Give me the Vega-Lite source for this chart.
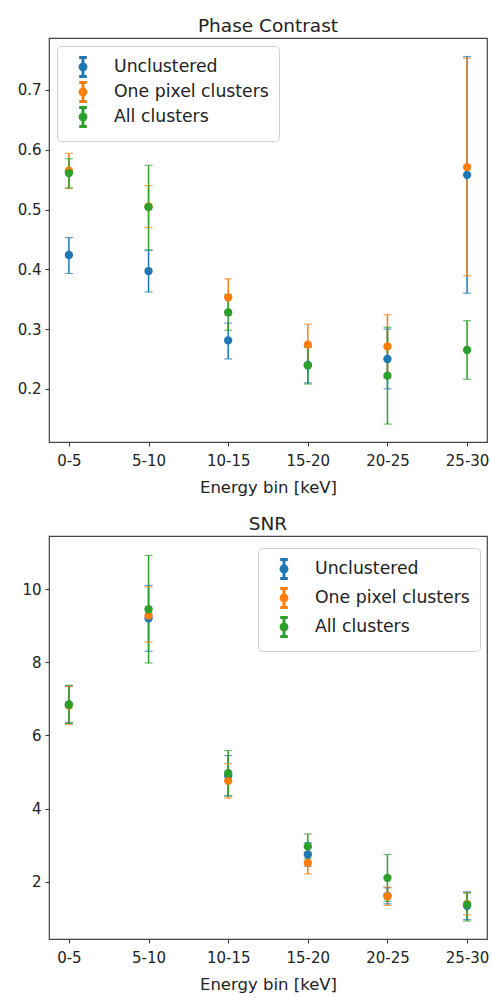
{
  "$schema": "https://vega.github.io/schema/vega-lite/v6.json",
  "padding": {"left": 16, "top": 15, "right": 5, "bottom": 0},
  "background": "white",
  "datasets": {
    "pc": [
      {"bin": "0-5", "series": "Unclustered", "v": 0.424, "lo": 0.393, "hi": 0.453},
      {"bin": "0-5", "series": "One pixel clusters", "v": 0.565, "lo": 0.535, "hi": 0.594},
      {"bin": "0-5", "series": "All clusters", "v": 0.561, "lo": 0.536, "hi": 0.585},
      {"bin": "5-10", "series": "Unclustered", "v": 0.397, "lo": 0.362, "hi": 0.432},
      {"bin": "5-10", "series": "One pixel clusters", "v": 0.505, "lo": 0.47, "hi": 0.54},
      {"bin": "5-10", "series": "All clusters", "v": 0.504, "lo": 0.432, "hi": 0.574},
      {"bin": "10-15", "series": "Unclustered", "v": 0.281, "lo": 0.25, "hi": 0.31},
      {"bin": "10-15", "series": "One pixel clusters", "v": 0.353, "lo": 0.323, "hi": 0.384},
      {"bin": "10-15", "series": "All clusters", "v": 0.328, "lo": 0.298, "hi": 0.358},
      {"bin": "15-20", "series": "Unclustered", "v": 0.24, "lo": 0.21, "hi": 0.27},
      {"bin": "15-20", "series": "One pixel clusters", "v": 0.274, "lo": 0.24, "hi": 0.308},
      {"bin": "15-20", "series": "All clusters", "v": 0.239, "lo": 0.208, "hi": 0.27},
      {"bin": "20-25", "series": "Unclustered", "v": 0.25, "lo": 0.2, "hi": 0.3},
      {"bin": "20-25", "series": "One pixel clusters", "v": 0.271, "lo": 0.218, "hi": 0.324},
      {"bin": "20-25", "series": "All clusters", "v": 0.222, "lo": 0.141, "hi": 0.303},
      {"bin": "25-30", "series": "Unclustered", "v": 0.558, "lo": 0.36, "hi": 0.756},
      {"bin": "25-30", "series": "One pixel clusters", "v": 0.571, "lo": 0.389, "hi": 0.753},
      {"bin": "25-30", "series": "All clusters", "v": 0.265, "lo": 0.216, "hi": 0.314}
    ],
    "snr": [
      {"bin": "0-5", "series": "Unclustered", "v": 6.85, "lo": 6.35, "hi": 7.35},
      {"bin": "0-5", "series": "One pixel clusters", "v": 6.82, "lo": 6.3, "hi": 7.34},
      {"bin": "0-5", "series": "All clusters", "v": 6.84, "lo": 6.33, "hi": 7.37},
      {"bin": "5-10", "series": "Unclustered", "v": 9.2, "lo": 8.3, "hi": 10.1},
      {"bin": "5-10", "series": "One pixel clusters", "v": 9.28, "lo": 8.55, "hi": 10.06},
      {"bin": "5-10", "series": "All clusters", "v": 9.45, "lo": 7.98, "hi": 10.92},
      {"bin": "10-15", "series": "Unclustered", "v": 4.9, "lo": 4.35, "hi": 5.45},
      {"bin": "10-15", "series": "One pixel clusters", "v": 4.76, "lo": 4.29, "hi": 5.23},
      {"bin": "10-15", "series": "All clusters", "v": 4.97, "lo": 4.35, "hi": 5.59},
      {"bin": "15-20", "series": "Unclustered", "v": 2.75, "lo": 2.43, "hi": 3.07},
      {"bin": "15-20", "series": "One pixel clusters", "v": 2.52, "lo": 2.22, "hi": 2.82},
      {"bin": "15-20", "series": "All clusters", "v": 2.97, "lo": 2.63, "hi": 3.31},
      {"bin": "20-25", "series": "Unclustered", "v": 1.62, "lo": 1.4, "hi": 1.84},
      {"bin": "20-25", "series": "One pixel clusters", "v": 1.61, "lo": 1.36, "hi": 1.86},
      {"bin": "20-25", "series": "All clusters", "v": 2.11, "lo": 1.47, "hi": 2.75},
      {"bin": "25-30", "series": "Unclustered", "v": 1.35, "lo": 0.97, "hi": 1.73},
      {"bin": "25-30", "series": "One pixel clusters", "v": 1.4, "lo": 1.1, "hi": 1.7},
      {"bin": "25-30", "series": "All clusters", "v": 1.38, "lo": 0.93, "hi": 1.7}
    ]
  },
  "config": {
    "font": "DejaVu Sans",
    "view": {"stroke": "#444", "strokeWidth": 1.2},
    "axis": {
      "grid": false, "domain": false, "tickColor": "#333", "tickSize": 4, "tickWidth": 1,
      "labelFont": "DejaVu Sans", "labelFontSize": 15, "labelColor": "#222", "labelPadding": 4,
      "titleFont": "DejaVu Sans", "titleFontSize": 16.5, "titleFontWeight": "normal", "titleColor": "#222"
    },
    "axisX": {"labelPadding": 7},
    "title": {"font": "DejaVu Sans", "fontSize": 18.5, "fontWeight": "normal", "color": "#222", "offset": 3},
    "legend": {
      "title": null, "labelFont": "DejaVu Sans", "labelFontSize": 17.3, "labelColor": "#222",
      "fillColor": "white", "strokeColor": "#d0d0d0", "cornerRadius": 4, "padding": 10,
      "symbolSize": 420, "labelOffset": 20, "symbolOffset": 5, "symbolOpacity": 1
    }
  },
  "spacing": 16,
  "resolve": {"scale": {"color": "independent", "y": "independent"}, "legend": {"color": "independent"}},
  "vconcat": [
    {
      "title": "Phase Contrast",
      "width": 438,
      "height": 404,
      "data": {"name": "pc"},
      "encoding": {
        "x": {"field": "bin", "type": "ordinal", "sort": ["0-5", "5-10", "10-15", "15-20", "20-25", "25-30"],
              "scale": {"type": "point", "padding": 0.25},
              "axis": {"labelAngle": 0, "title": "Energy bin [keV]", "titlePadding": 11}},
        "color": {"field": "series", "type": "nominal", "sort": ["Unclustered", "One pixel clusters", "All clusters"],
                  "scale": {"domain": ["Unclustered", "One pixel clusters", "All clusters"], "range": ["#1f77b4", "#ff7f0e", "#2ca02c"]},
                  "legend": {"orient": "none", "legendX": 8, "legendY": 8, "rowPadding": -3,
                             "symbolType": "M-0.07,-1H0.07V1H-0.07Z M-0.3,-1H0.3V-0.86H-0.3Z M-0.3,0.86H0.3V1H-0.3Z M-0.36,0A0.36,0.36,0,1,0,0.36,0A0.36,0.36,0,1,0,-0.36,0Z"}}
      },
      "layer": [
        {
          "mark": {"type": "rule", "strokeWidth": 1.5},
          "encoding": {
            "y": {"field": "lo", "type": "quantitative", "scale": {"domain": [0.111, 0.787], "nice": false, "zero": false},
                  "axis": {"values": [0.2, 0.3, 0.4, 0.5, 0.6, 0.7], "format": ".1f", "title": null}},
            "y2": {"field": "hi"}
          }
        },
        {
          "mark": {"type": "tick", "orient": "horizontal", "size": 8, "thickness": 1.2},
          "encoding": {"y": {"field": "lo", "type": "quantitative"}}
        },
        {
          "mark": {"type": "tick", "orient": "horizontal", "size": 8, "thickness": 1.2},
          "encoding": {"y": {"field": "hi", "type": "quantitative"}}
        },
        {
          "mark": {"type": "point", "filled": true, "opacity": 1, "size": 70, "shape": "circle"},
          "encoding": {"y": {"field": "v", "type": "quantitative"}}
        }
      ]
    },
    {
      "title": "SNR",
      "width": 438,
      "height": 403,
      "data": {"name": "snr"},
      "encoding": {
        "x": {"field": "bin", "type": "ordinal", "sort": ["0-5", "5-10", "10-15", "15-20", "20-25", "25-30"],
              "scale": {"type": "point", "padding": 0.25},
              "axis": {"labelAngle": 0, "title": "Energy bin [keV]", "titlePadding": 11}},
        "color": {"field": "series", "type": "nominal", "sort": ["Unclustered", "One pixel clusters", "All clusters"],
                  "scale": {"domain": ["Unclustered", "One pixel clusters", "All clusters"], "range": ["#1f77b4", "#ff7f0e", "#2ca02c"]},
                  "legend": {"orient": "none", "legendX": 209, "legendY": 12, "rowPadding": 1,
                             "symbolType": "M-0.07,-1H0.07V1H-0.07Z M-0.3,-1H0.3V-0.86H-0.3Z M-0.3,0.86H0.3V1H-0.3Z M-0.36,0A0.36,0.36,0,1,0,0.36,0A0.36,0.36,0,1,0,-0.36,0Z"}}
      },
      "layer": [
        {
          "mark": {"type": "rule", "strokeWidth": 1.5},
          "encoding": {
            "y": {"field": "lo", "type": "quantitative", "scale": {"domain": [0.44, 11.45], "nice": false, "zero": false},
                  "axis": {"values": [2, 4, 6, 8, 10], "title": null}},
            "y2": {"field": "hi"}
          }
        },
        {
          "mark": {"type": "tick", "orient": "horizontal", "size": 8, "thickness": 1.2},
          "encoding": {"y": {"field": "lo", "type": "quantitative"}}
        },
        {
          "mark": {"type": "tick", "orient": "horizontal", "size": 8, "thickness": 1.2},
          "encoding": {"y": {"field": "hi", "type": "quantitative"}}
        },
        {
          "mark": {"type": "point", "filled": true, "opacity": 1, "size": 70, "shape": "circle"},
          "encoding": {"y": {"field": "v", "type": "quantitative"}}
        }
      ]
    }
  ]
}
